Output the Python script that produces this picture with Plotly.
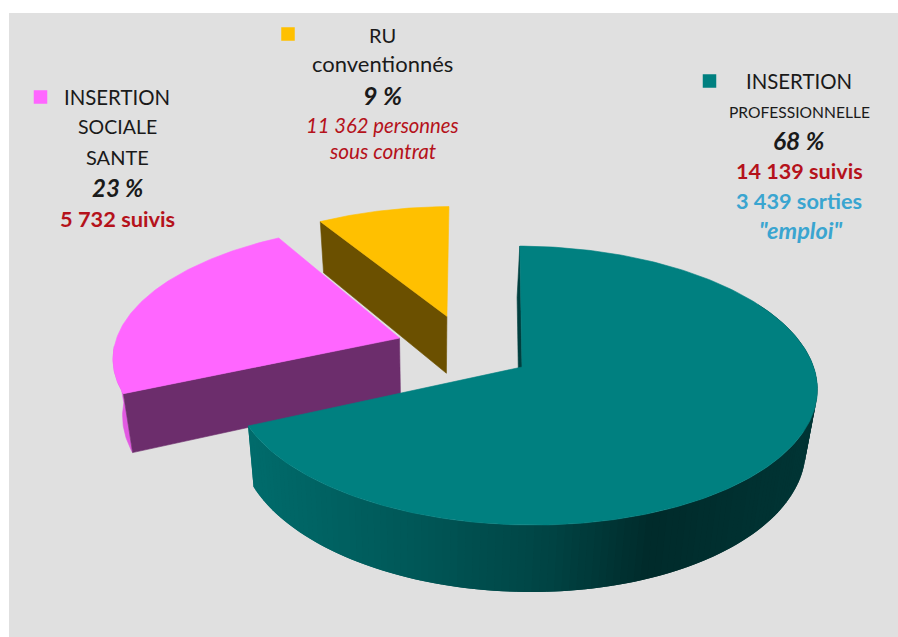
import numpy as np
import plotly.graph_objects as go

# ---------- data ----------
categories = ["INSERTION PROFESSIONNELLE", "INSERTION SOCIALE SANTE", "RU conventionnés"]
shares = [68, 23, 9]
suivis_pro = "14 139 suivis"
sorties_pro = "3 439 sorties"
emploi_pro = '"emploi"'
suivis_soc = "5 732 suivis"
contrat_ru = ["11 362 personnes", "sous contrat"]

# ---------- colours ----------
TEAL, PINK, YEL = "#008080", "#ff66ff", "#ffc000"
PURPLE, PINK_RIM, BROWN, TEAL_CUT = "#6c2d6c", "#e25ae2", "#6b5000", "#003f3f"
PANEL = "#e0e0e0"
DARK, RED, BLUE = "#1a1a1a", "#b5121b", "#3aa5d0"

# ---------- oblique projection of the pie ----------
CX, CY = 522.0, 367.0
A, B, C, D, P, Q = 289.5, -2.5, 2.4, 137.0, 0.133, -0.01
VX, VS = 430.0, 0.97


def top(u, v):
    w = 1 + P * v + Q * u
    return CX + (A * u + B * v) / w, CY + (C * u - D * v) / w


def bottom(u, v, h):
    x, y = top(u, v)
    w = 1 + P * v + Q * u
    return VX + (x - VX) * VS, y + h / w


def rim(a0, a1, n=120):
    t = np.radians(np.linspace(a0, a1, n))
    return np.sin(t), np.cos(t)


def poly(fig, xs, ys, color, lw=0.6):
    fig.add_trace(go.Scatter(x=list(xs), y=list(ys), mode="lines", fill="toself",
                             fillcolor=color, line=dict(color=color, width=lw),
                             hoverinfo="skip", showlegend=False))


def lerp_col(t):
    stops = [(250, (0, 108, 108)), (420, (0, 88, 88)), (560, (0, 68, 68)),
             (660, (0, 43, 43)), (800, (0, 52, 52))]
    xs = [s[0] for s in stops]
    return "rgb(%d,%d,%d)" % tuple(np.interp(t, xs, [s[1][i] for s in stops]) for i in range(3))


fig = go.Figure()
ang = np.cumsum([0] + shares) * 3.6

# yellow slice (exploded)
ou, ov = -0.27, 0.385
h = 60
su, sv = rim(ang[2], ang[3] - 1)
ux, vx = su[0] + ou, sv[0] + ov
a1 = bottom(ou, ov, h)
a2 = bottom(ux, vx, h)
t1, t2 = top(ou, ov), top(ux, vx)
poly(fig, [t1[0], t2[0], a2[0], a1[0], t1[0]], [t1[1], t2[1], a2[1], a1[1], t1[1]], BROWN)
x, y = top(su + ou, sv + ov)
poly(fig, [t1[0], *x, t1[0]], [t1[1], *y, t1[1]], YEL)

# pink slice (exploded, drawn slightly wider across)
ou, ov = -0.435, 0.21
h = 58
su, sv = rim(ang[1], ang[2] + 1.5)
su = su * 1.02
xb, yb = bottom(su[:30] + ou, sv[:30] + ov, h)
xt, yt = top(su[:30] + ou, sv[:30] + ov)
poly(fig, [*xt, *xb[::-1]], [*yt, *yb[::-1]], PINK_RIM)
ux, vx = su[0] + ou, sv[0] + ov
t1, t2 = top(ou, ov), top(ux, vx)
a1, a2 = bottom(ou, ov, h), bottom(ux, vx, h)
poly(fig, [t1[0], t2[0], a2[0], a1[0], t1[0]], [t1[1], t2[1], a2[1], a1[1], t1[1]], PURPLE)
x, y = top(su + ou, sv + ov)
poly(fig, [t1[0], *x, t1[0]], [t1[1], *y, t1[1]], PINK)

# teal slice
h = 58
t1, t2 = top(0, 0), top(0, 1)
a1, a2 = bottom(0, 0, h), bottom(0, 1, h)
poly(fig, [t1[0], t2[0], a2[0], a1[0], t1[0]], [t1[1], t2[1], a2[1], a1[1], t1[1]], TEAL_CUT)
su, sv = rim(60, ang[1], 140)
for i in range(len(su) - 2, -1, -1):
    j = i + 3
    xt, yt = top(su[i:j], sv[i:j])
    xb, yb = bottom(su[i:j], sv[i:j], h)
    poly(fig, [*xt, *xb[::-1]], [*yt, *yb[::-1]], lerp_col(xt[:2].mean()), lw=0)
su, sv = rim(ang[0], ang[1], 300)
x, y = top(su, sv)
poly(fig, [t1[0], *x, t1[0]], [t1[1], *y, t1[1]], TEAL)

# legend squares
for px, py, col in [(709.5, 81, TEAL), (40.5, 97, PINK), (288, 34, YEL)]:
    fig.add_trace(go.Scatter(x=[px], y=[py], mode="markers", hoverinfo="skip", showlegend=False,
                             marker=dict(symbol="square", size=13.5, color=col)))


def label(x, y, text, size=20, color=DARK, bold=False, italic=False):
    s = text
    if bold:
        s = "<b>%s</b>" % s
    if italic:
        s = "<i>%s</i>" % s
    fig.add_annotation(x=x, y=y, text=s, showarrow=False, xanchor="center", yanchor="middle",
                       font=dict(family="Lato", size=size, color=color))


# RU
label(382, 34.5, "RU")
label(382, 63.5, "conventionnés", 22)
label(382, 94.5, "%d %%" % shares[2], 25, DARK, True, True)
label(382, 124.5, contrat_ru[0], 20.3, RED, False, True)
label(382, 150.5, contrat_ru[1], 20.8, RED, False, True)
# social
label(117, 96.5, "INSERTION", 20.4)
label(117, 126.5, "SOCIALE", 19.5)
label(117, 156.5, "SANTE", 20)
label(117, 187.5, "%d %%" % shares[1], 24, DARK, True, True)
label(117, 218.5, suivis_soc, 21.8, RED, True)
# pro
label(799, 80.5, "INSERTION", 20.4)
label(799, 111.5, "PROFESSIONNELLE", 15.6)
label(799, 140.5, "%d %%" % shares[0], 24.5, DARK, True, True)
label(799, 170.5, suivis_pro, 21.6, RED, True)
label(799, 200.5, sorties_pro, 21.7, BLUE, True)
label(801, 229.5, emploi_pro, 23.5, BLUE, True, True)

fig.update_layout(
    width=898, height=637, margin=dict(l=0, r=0, t=0, b=0),
    paper_bgcolor="white", plot_bgcolor="white", showlegend=False,
    xaxis=dict(range=[0, 898], visible=False, fixedrange=True),
    yaxis=dict(range=[637, 0], visible=False, fixedrange=True),
    shapes=[dict(type="rect", xref="x", yref="y", x0=9, x1=898, y0=13, y1=637,
                 fillcolor=PANEL, line=dict(width=0), layer="below")],
)
fig.write_html("out.html", config=dict(displayModeBar=False),
               post_script="document.body.style.margin='0';document.body.style.overflow='hidden';")
